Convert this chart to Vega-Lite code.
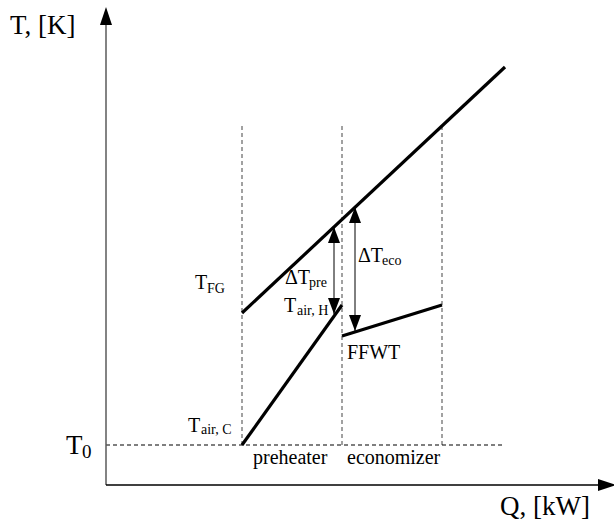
{
  "$schema": "https://vega.github.io/schema/vega-lite/v6.json",
  "width": 614,
  "height": 525,
  "padding": 0,
  "autosize": {"type": "none"},
  "background": "white",
  "config": {"view": {"stroke": null}, "text": {"font": "Liberation Serif", "color": "black", "align": "left", "baseline": "alphabetic"}},
  "datasets": {
    "sections": [{"q": 136, "t": 40, "t2": 360}, {"q": 236, "t": 40, "t2": 360}, {"q": 336, "t": 40, "t2": 360}],
    "ambient": [{"q": 0, "q2": 399, "t": 40}],
    "curves": [
      {"series": "flue gas", "q": 136, "t": 172},
      {"series": "flue gas", "q": 399, "t": 418},
      {"series": "air", "q": 136, "t": 40},
      {"series": "air", "q": 236, "t": 180},
      {"series": "FFWT", "q": 236, "t": 149},
      {"series": "FFWT", "q": 336, "t": 180}
    ],
    "differences": [
      {"name": "pre", "q": 228, "t": 171, "t2": 258},
      {"name": "eco", "q": 249, "t": 154, "t2": 278}
    ],
    "labels": [
      {"text": "T", "q": 89, "t": 196},
      {"text": "ΔT", "q": 179, "t": 201},
      {"text": "T", "q": 178, "t": 173},
      {"text": "ΔT", "q": 252, "t": 223},
      {"text": "T", "q": 82, "t": 53},
      {"text": "FFWT", "q": 241, "t": 126},
      {"text": "preheater", "q": 147, "t": 21},
      {"text": "economizer", "q": 241, "t": 21}
    ],
    "subscripts": [
      {"text": "FG", "q": 101, "t": 192},
      {"text": "pre", "q": 203, "t": 198},
      {"text": "air, H", "q": 191, "t": 170},
      {"text": "eco", "q": 276, "t": 220},
      {"text": "air, C", "q": 95, "t": 51}
    ],
    "titles": [
      {"text": "T, [K]", "q": -96, "t": 451},
      {"text": "Q, [kW]", "q": 394, "t": -30},
      {"text": "T", "q": -40, "t": 31}
    ]
  },
  "encoding": {
    "x": {"field": "q", "type": "quantitative", "scale": {"domain": [-106, 508], "nice": false, "zero": false}, "axis": null},
    "y": {"field": "t", "type": "quantitative", "scale": {"domain": [-40, 485], "nice": false, "zero": false}, "axis": null}
  },
  "layer": [
    {
      "data": {"name": "sections"},
      "mark": {"type": "rule", "color": "#555555", "strokeWidth": 1.1, "strokeDash": [4, 3]},
      "encoding": {"y2": {"field": "t2"}}
    },
    {
      "data": {"name": "ambient"},
      "mark": {"type": "rule", "color": "black", "strokeWidth": 1.1, "strokeDash": [4, 3]},
      "encoding": {"x2": {"field": "q2"}}
    },
    {
      "data": {"values": [{"q": 0, "t": 0, "t2": 470}]},
      "mark": {"type": "rule", "color": "#5a5a5a", "strokeWidth": 1.5},
      "encoding": {"y2": {"field": "t2"}}
    },
    {
      "data": {"values": [{"q": 0, "q2": 500, "t": 0}]},
      "mark": {"type": "rule", "color": "black", "strokeWidth": 1.5},
      "encoding": {"x2": {"field": "q2"}}
    },
    {
      "data": {"values": [{"q": 0, "t": 478}]},
      "mark": {"type": "point", "shape": "M0,-1L-0.667,1L0.667,1Z", "size": 324, "filled": true, "color": "black", "opacity": 1, "yOffset": 9}
    },
    {
      "data": {"values": [{"q": 510, "t": 0}]},
      "mark": {"type": "point", "shape": "M1,0L-1,-0.667L-1,0.667Z", "size": 324, "filled": true, "color": "black", "opacity": 1, "xOffset": -9}
    },
    {
      "data": {"name": "curves"},
      "mark": {"type": "line", "color": "black", "strokeWidth": 3.2, "strokeCap": "butt"},
      "encoding": {"detail": {"field": "series"}}
    },
    {
      "data": {"name": "differences"},
      "mark": {"type": "rule", "color": "black", "strokeWidth": 1},
      "encoding": {"y2": {"field": "t2"}}
    },
    {
      "data": {"name": "differences"},
      "mark": {"type": "point", "shape": "M0,-1L-0.75,1L0.75,1Z", "size": 256, "filled": true, "color": "black", "opacity": 1, "yOffset": 8},
      "encoding": {"y": {"field": "t2", "type": "quantitative"}}
    },
    {
      "data": {"name": "differences"},
      "mark": {"type": "point", "shape": "M0,1L-0.75,-1L0.75,-1Z", "size": 256, "filled": true, "color": "black", "opacity": 1, "yOffset": -8}
    },
    {
      "data": {"name": "labels"},
      "mark": {"type": "text", "fontSize": 20},
      "encoding": {"text": {"field": "text"}}
    },
    {
      "data": {"name": "subscripts"},
      "mark": {"type": "text", "fontSize": 14},
      "encoding": {"text": {"field": "text"}}
    },
    {
      "data": {"name": "titles"},
      "mark": {"type": "text", "fontSize": 27},
      "encoding": {"text": {"field": "text"}}
    },
    {
      "data": {"values": [{"text": "0", "q": -24, "t": 27}]},
      "mark": {"type": "text", "fontSize": 19},
      "encoding": {"text": {"field": "text"}}
    }
  ]
}
